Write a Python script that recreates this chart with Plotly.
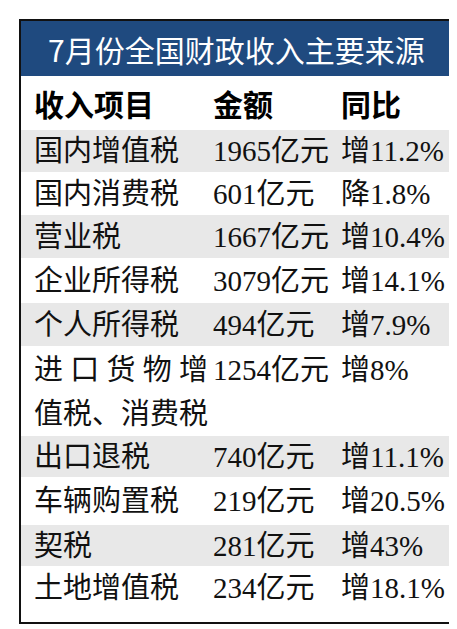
import plotly.graph_objects as go

title = "7月份全国财政收入主要来源"
headers = ["收入项目", "金额", "同比"]
items = ["国内增值税", "国内消费税", "营业税", "企业所得税", "个人所得税",
         "进 口 货 物 增<br>值税、消费税", "出口退税", "车辆购置税", "契税", "土地增值税"]
amounts = ["1965亿元", "601亿元", "1667亿元", "3079亿元", "494亿元",
           "1254亿元", "740亿元", "219亿元", "281亿元", "234亿元"]
changes = ["增11.2%", "降1.8%", "增10.4%", "增14.1%", "增7.9%",
           "增8%", "增11.1%", "增20.5%", "增43%", "增18.1%"]

# layout/style (pixels)
row_h = [42, 43, 43, 45, 43, 90, 41, 48, 41, 44]
col_x = [24, 203, 331]
W, H = 457, 629
L, R, T, B = 12, 444, 12, 615
title_bot, head_bot = 68, 122

shapes = [
    dict(type="rect", x0=L, x1=R, y0=T, y1=title_bot, fillcolor="#1f4a7f", line_width=0, layer="below"),
]
ann = [dict(x=(L + R) / 2, y=(T + title_bot) / 2 + 1, text=title, showarrow=False,
            font=dict(family="Noto Sans CJK SC", size=30, color="white"), xanchor="center", yanchor="middle")]
for i, h in enumerate(headers):
    ann.append(dict(x=col_x[i], y=(title_bot + head_bot) / 2, text="<b>%s</b>" % h, showarrow=False,
                    font=dict(family="Noto Sans CJK SC", size=30, color="black"), xanchor="left", yanchor="middle"))
y = head_bot
body = dict(family="Liberation Serif, Noto Sans CJK SC", size=29, color="#111")
for i in range(len(items)):
    h = row_h[i]
    if i % 2 == 0:
        shapes.append(dict(type="rect", x0=L, x1=R, y0=y, y1=y + h, fillcolor="#e8e8e8", line_width=0, layer="below"))
    if "<br>" in items[i]:
        lines = items[i].split("<br>")
        cy = y + 24
        for k, ln in enumerate(lines):
            ann.append(dict(x=col_x[0], y=cy + 44 * k, text=ln, showarrow=False, font=body,
                            xanchor="left", yanchor="middle"))
    else:
        cy = y + h / 2
        ann.append(dict(x=col_x[0], y=cy, text=items[i], showarrow=False, font=body, xanchor="left", yanchor="middle"))
    ann.append(dict(x=col_x[1], y=cy, text=amounts[i], showarrow=False, font=body, xanchor="left", yanchor="middle"))
    ann.append(dict(x=col_x[2], y=cy, text=changes[i], showarrow=False, font=body, xanchor="left", yanchor="middle"))
    y += h
shapes.append(dict(type="rect", x0=L, x1=R, y0=T, y1=B, line=dict(color="#111", width=2), fillcolor="rgba(0,0,0,0)"))

fig = go.Figure()
fig.update_layout(width=W, height=H, margin=dict(l=0, r=0, t=0, b=0), plot_bgcolor="white", paper_bgcolor="white",
                  xaxis=dict(range=[0, W], visible=False, fixedrange=True),
                  yaxis=dict(range=[H, 0], visible=False, fixedrange=True),
                  shapes=shapes, annotations=ann, showlegend=False)
fig.write_html("out.html", config={"displayModeBar": False})
